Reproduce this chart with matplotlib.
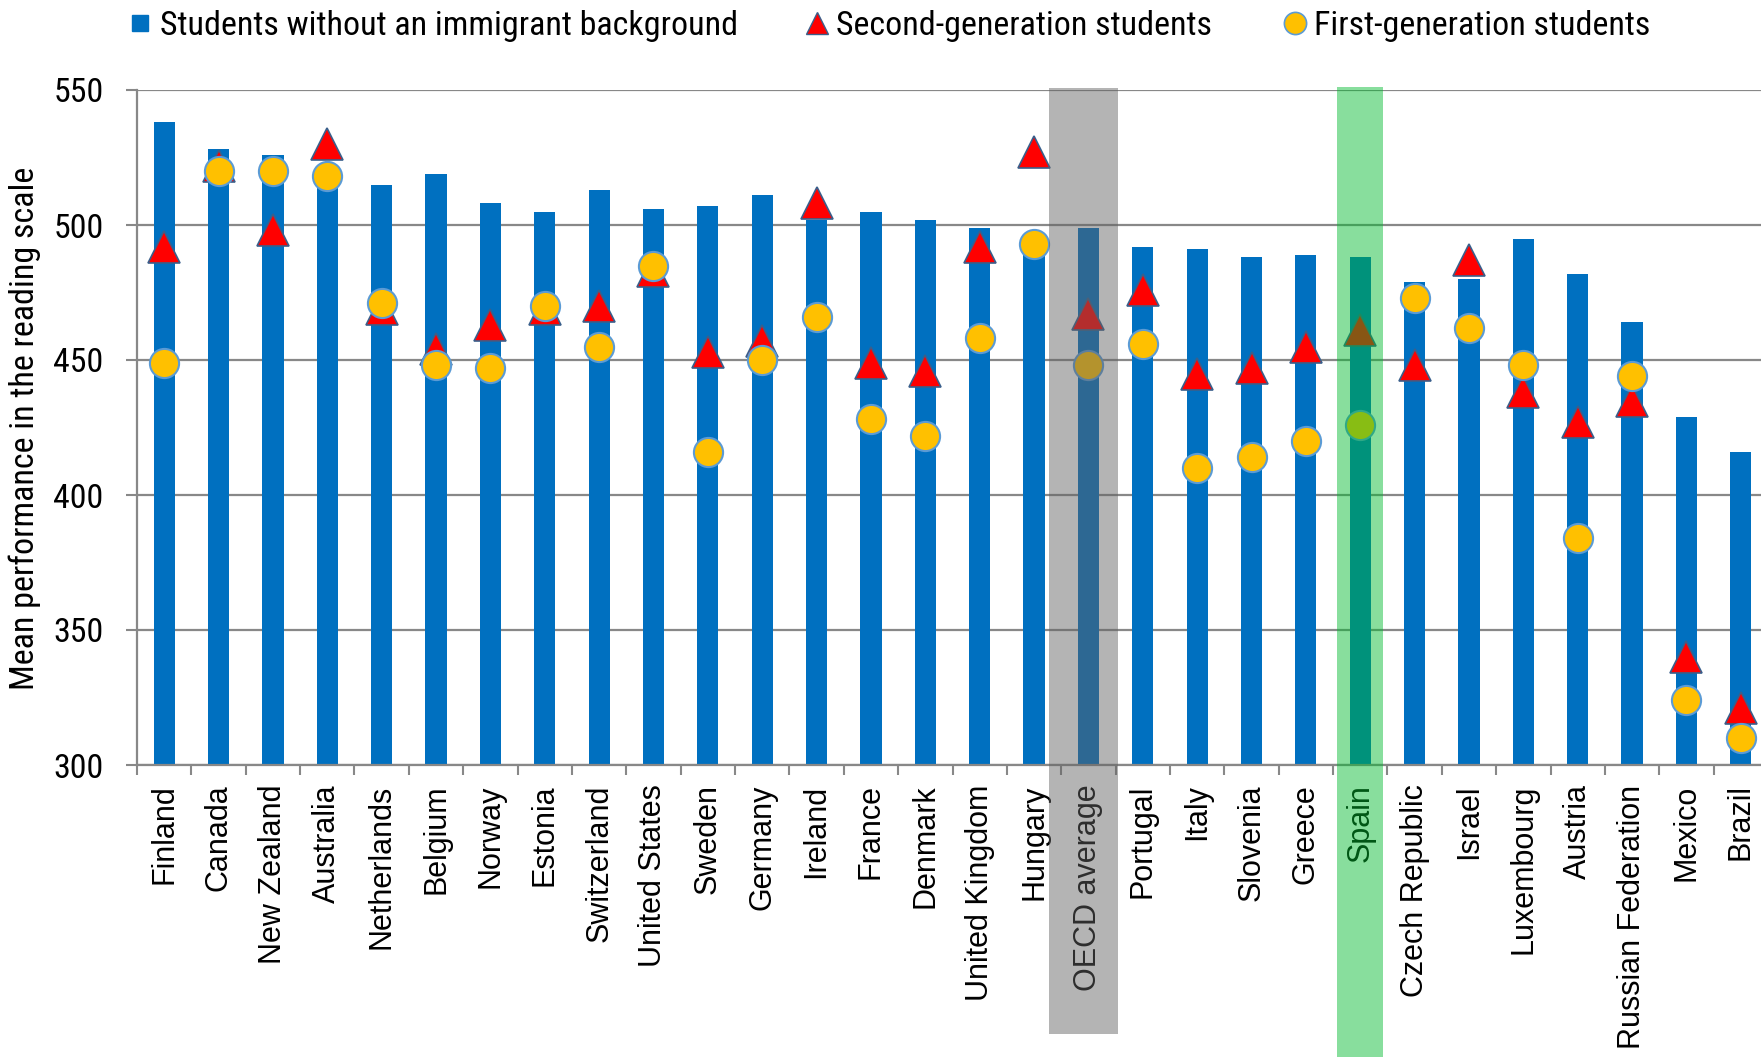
import matplotlib
matplotlib.use("Agg")
import matplotlib.pyplot as plt
from matplotlib import font_manager
from matplotlib.lines import Line2D
from matplotlib.patches import Rectangle
from matplotlib.transforms import blended_transform_factory
import numpy as np

countries = ["Finland", "Canada", "New Zealand", "Australia", "Netherlands", "Belgium",
             "Norway", "Estonia", "Switzerland", "United States", "Sweden", "Germany",
             "Ireland", "France", "Denmark", "United Kingdom", "Hungary", "OECD average",
             "Portugal", "Italy", "Slovenia", "Greece", "Spain", "Czech Republic", "Israel",
             "Luxembourg", "Austria", "Russian Federation", "Mexico", "Brazil"]

native = [538, 528, 526, 518, 515, 519, 508, 505, 513, 506, 507, 511, 502, 505, 502,
          499, 496, 499, 492, 491, 488, 489, 488, 479, 480, 495, 482, 464, 429, 416]

second_gen = [492, 522, 498, 530, 469, 454, 463, 469, 470, 483, 453, 457, 508, 449, 446,
              492, 527, 467, 476, 445, 447, 455, 461, 448, 487, 438, 427, 435, 340, 321]

first_gen = [449, 520, 520, 518, 471, 448, 447, 470, 455, 485, 416, 450, 466, 428, 422,
             458, 493, 448, 456, 410, 414, 420, 426, 473, 462, 448, 384, 444, 324, 310]

y_ticks = [300, 350, 400, 450, 500, 550]

legend_labels = ["Students without an immigrant background",
                 "Second-generation students",
                 "First-generation students"]
y_label = "Mean performance in the reading scale"

names = {f.name for f in font_manager.fontManager.ttflist}
NARROW, nscale = "Liberation Sans", 0.82
for cand, sc in [("Liberation Sans Narrow", 1.0), ("Arial Narrow", 1.0),
                 ("Roboto Condensed", 0.925)]:
    if cand in names:
        NARROW, nscale = cand, sc
        break
REG = "Liberation Sans"

BLUE = "#0070C0"
RED = "#FF0000"
YELLOW = "#FFC000"
GRID = "#888888"

W, H = 1761, 1057
fig = plt.figure(figsize=(W / 100, H / 100), dpi=100)
ax = fig.add_axes([137 / W, 1 - 765 / H, 1631 / W, 675 / H])

x = np.arange(len(countries))
ax.bar(x, native, width=0.39, bottom=0, color=BLUE, zorder=2)
ax.plot(x, second_gen, linestyle="none", marker="^", markersize=23,
        markerfacecolor=RED, markeredgecolor="#3A5F8B", markeredgewidth=1.2, zorder=3)
ax.plot(x, first_gen, linestyle="none", marker="o", markersize=21,
        markerfacecolor=YELLOW, markeredgecolor="#5B9BD5", markeredgewidth=1.5, zorder=4,
        clip_on=False)

ax.set_xlim(-0.5, len(countries) - 0.5)
ax.set_ylim(300, 550)
ax.set_yticks(y_ticks)
ax.set_yticklabels([str(v) for v in y_ticks], fontfamily=NARROW, fontsize=26.5 * nscale)
ax.yaxis.grid(True, color=GRID, linewidth=1.6, zorder=1)
ax.set_axisbelow(True)

ax.set_xticks(x)
ax.set_xticklabels(countries, rotation=90, ha="center", va="top",
                   fontfamily=REG, fontsize=22)
ax.set_xticks(np.arange(-0.5, len(countries), 1.0), minor=True)
ax.tick_params(axis="x", which="major", length=0, pad=14)
ax.tick_params(axis="x", which="minor", length=7, width=1.5, color=GRID, direction="out")
ax.tick_params(axis="y", which="major", length=8, width=1.5, color=GRID, pad=16)

for s in ["top", "right"]:
    ax.spines[s].set_visible(False)
for s in ["left", "bottom"]:
    ax.spines[s].set_color(GRID)
    ax.spines[s].set_linewidth(1.6)

fig.text(25 / W, 1 - 428 / H, y_label, rotation=90, ha="center", va="center",
         fontfamily=NARROW, fontsize=26.5 * nscale)

# Highlight bands
tr = blended_transform_factory(ax.transData, fig.transFigure)
fig.add_artist(Rectangle((16.27, 1 - 1034 / H), 17.54 - 16.27, (1034 - 88) / H,
                         transform=tr, facecolor=(97 / 255, 97 / 255, 97 / 255),
                         alpha=0.475, edgecolor="none", zorder=5))
fig.add_artist(Rectangle((21.58, 0), 22.42 - 21.58, 1 - 87 / H,
                         transform=tr, facecolor=(0, 186 / 255, 45 / 255),
                         alpha=0.467, edgecolor="none", zorder=5))

# Legend
handles = [
    Line2D([], [], linestyle="none", marker="s", markersize=12, markerfacecolor=BLUE,
           markeredgecolor=BLUE),
    Line2D([], [], linestyle="none", marker="^", markersize=16, markerfacecolor=RED,
           markeredgecolor="#3A5F8B", markeredgewidth=1.0),
    Line2D([], [], linestyle="none", marker="o", markersize=16, markerfacecolor=YELLOW,
           markeredgecolor="#5B9BD5", markeredgewidth=1.2),
]
fs = 26.5 * nscale
fspx = fs * 100 / 72
hl = 0.6
hpad = (19.5 - hl * fspx / 2) / fspx
for h, lab, cx in zip(handles, legend_labels, [140, 816.5, 1295]):
    fig.legend([h], [lab], loc="center left",
               bbox_to_anchor=((cx - hl * fspx / 2) / W, 1 - 26 / H),
               frameon=False, borderpad=0, borderaxespad=0, handlelength=hl,
               handletextpad=hpad, prop={"family": NARROW, "size": fs})

fig.savefig("out.png", dpi=100)
